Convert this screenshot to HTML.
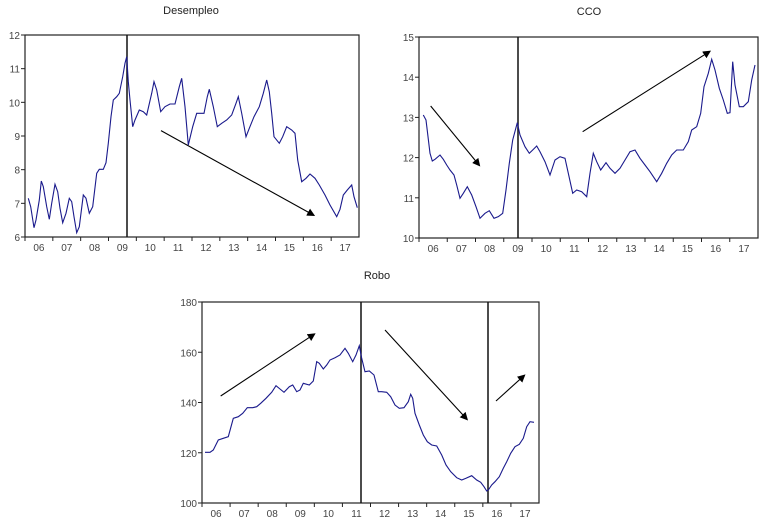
<!DOCTYPE html>
<html><head><meta charset="utf-8"><style>
html,body{margin:0;padding:0;background:#fff;width:764px;height:527px;overflow:hidden}
svg text{font-family:"Liberation Sans",sans-serif;font-size:10px;fill:#444}
</style></head><body>
<svg id="s" width="764" height="527" xmlns="http://www.w3.org/2000/svg">
<defs><marker id="ah" markerWidth="8" markerHeight="8" refX="6" refY="4" orient="auto" markerUnits="userSpaceOnUse"><path d="M0,0 L8,4 L0,8 z" fill="#000"/></marker></defs>
<g id="g"></g>
<text x="191" y="14" text-anchor="middle" style="font-size:11px;fill:#222">Desempleo</text>
<text x="589" y="15" text-anchor="middle" style="font-size:11px;fill:#222">CCO</text>
<text x="377" y="279" text-anchor="middle" style="font-size:11px;fill:#222">Robo</text>
</svg>
<script>
var g=document.getElementById('g'),NS='http://www.w3.org/2000/svg';
function el(t,a,txt){var e=document.createElementNS(NS,t);for(var k in a)e.setAttribute(k,a[k]);if(txt!=null)e.textContent=txt;g.appendChild(e);return e;}
function chart(c){
 el('rect',{x:c.x0,y:c.y0,width:c.x1-c.x0,height:c.y1-c.y0,fill:'none',stroke:'#222','stroke-width':1.2});
 c.vl.forEach(function(v){el('line',{x1:v,y1:c.y0,x2:v,y2:c.y1,stroke:'#111','stroke-width':1.5});});
 var n=c.ticks.length-1;
 c.ticks.forEach(function(t,i){var y=c.y1-(c.y1-c.y0)*i/n;
  el('line',{x1:c.x0-4,y1:y,x2:c.x0,y2:y,stroke:'#222'});
  el('text',{x:c.x0-5,y:y+4,'text-anchor':'end'},t);});
 var w=(c.x1-c.x0)/12;
 for(var i=0;i<12;i++){var x=c.x0+i*w;
  el('line',{x1:x,y1:c.y1,x2:x,y2:c.y1+4,stroke:'#222'});
  el('text',{x:x+w/2,y:c.y1+14,'text-anchor':'middle'},('0'+(6+i)).slice(-2));}
 var p=c.pts.map(function(q){return (c.ox+q[0]/3).toFixed(1)+','+(c.oy+q[1]/3).toFixed(1)}).join(' ');
 el('polyline',{points:p,fill:'none',stroke:'#1a1a8c','stroke-width':1.1});
 c.arr.forEach(function(a){el('line',{x1:c.ox+a[0]/3,y1:c.oy+a[1]/3,x2:c.ox+a[2]/3,y2:c.oy+a[3]/3,stroke:'#000','stroke-width':1.1,'marker-end':'url(#ah)'});});
}
chart({x0:25,x1:359,y0:35,y1:237,vl:[127],ticks:['6','7','8','9','10','11','12'],ox:0,oy:0,
pts:[[85,595],[92,620],[102,683],[108,660],[118,600],[124,543],[130,560],[140,620],[148,658],[155,610],[165,553],[173,575],[180,625],[188,668],[198,640],[208,595],[215,605],[222,650],[230,698],[238,680],[250,585],[258,595],[268,640],[278,620],[290,520],[298,508],[310,508],[318,488],[325,430],[333,350],[340,300],[350,290],[358,280],[368,230],[375,190],[380,170],[385,245],[390,300],[398,380],[405,360],[418,330],[430,335],[440,345],[455,280],[462,245],[470,270],[482,335],[495,320],[510,312],[525,312],[538,260],[545,235],[555,320],[565,435],[578,380],[590,340],[612,340],[622,290],[628,268],[640,320],[652,380],[665,370],[680,360],[695,345],[708,310],[715,290],[725,340],[738,410],[748,385],[762,350],[778,320],[790,280],[800,240],[808,275],[815,340],[822,410],[838,430],[848,410],[860,380],[875,390],[885,400],[893,480],[905,545],[918,535],[930,522],[945,535],[958,555],[975,585],[990,615],[1010,650],[1020,628],[1030,585],[1042,570],[1055,555],[1062,590],[1072,623]],
arr:[[483,392,940,645]]});
chart({x0:419,x1:758,y0:37,y1:238,vl:[518],ticks:['10','11','12','13','14','15'],ox:380,oy:0,
pts:[[130,345],[138,360],[150,460],[157,483],[165,478],[180,465],[190,478],[200,495],[210,510],[222,525],[230,555],[240,595],[250,580],[262,560],[275,585],[288,620],[300,655],[315,640],[328,632],[342,655],[355,650],[368,640],[378,570],[388,490],[398,420],[412,368],[420,405],[435,440],[448,460],[458,450],[470,438],[480,455],[495,485],[510,525],[525,480],[540,470],[555,475],[565,520],[578,580],[590,570],[605,575],[620,590],[630,520],[640,460],[650,485],[662,510],[678,488],[690,505],[705,520],[720,505],[735,480],[750,455],[765,450],[780,475],[795,495],[810,515],[830,545],[845,520],[860,490],[875,465],[890,450],[910,450],[925,425],[935,390],[950,380],[962,340],[972,260],[985,220],[995,178],[1005,210],[1018,265],[1030,300],[1042,340],[1050,338],[1058,185],[1065,255],[1078,320],[1090,320],[1105,305],[1115,240],[1125,195]],
arr:[[152,318,297,495],[608,395,988,155]]});
chart({x0:202,x1:539,y0:302,y1:503,vl:[361,488],ticks:['100','120','140','160','180'],ox:160,oy:265,
pts:[[135,562],[150,562],[160,555],[175,525],[190,520],[205,515],[220,460],[235,455],[248,445],[262,428],[278,428],[290,425],[302,415],[318,400],[335,382],[348,362],[360,372],[372,382],[388,365],[398,360],[410,380],[420,375],[430,355],[448,360],[460,348],[470,290],[478,295],[490,312],[500,300],[510,285],[525,278],[540,270],[555,250],[565,265],[578,290],[588,270],[598,242],[605,280],[615,320],[628,318],[642,330],[655,380],[665,380],[680,382],[692,395],[705,420],[718,430],[732,428],[745,410],[752,388],[758,400],[765,445],[778,480],[790,510],[802,530],[815,540],[830,543],[845,570],[858,600],[872,620],[890,638],[905,645],[918,640],[935,632],[950,645],[962,652],[972,665],[980,678],[985,675],[995,660],[1005,650],[1018,635],[1030,610],[1040,590],[1052,565],[1065,545],[1078,538],[1090,520],[1100,485],[1110,470],[1122,472]],
arr:[[182,393,462,208],[675,195,920,462],[1008,408,1092,332]]});
</script>
</body></html>
